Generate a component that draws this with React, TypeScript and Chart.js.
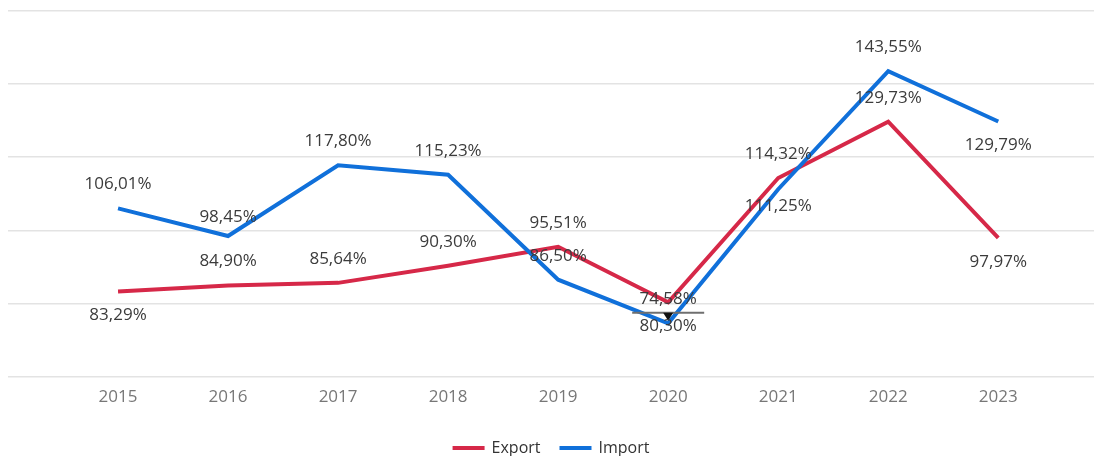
import React, { useEffect, useRef } from "react";
import { Chart, registerables } from "chart.js";

Chart.register(...registerables);

const years = ["2015", "2016", "2017", "2018", "2019", "2020", "2021", "2022", "2023"];
const exportValues = [83.29, 84.9, 85.64, 90.3, 95.51, 80.3, 114.32, 129.73, 97.97];
const importValues = [106.01, 98.45, 117.8, 115.23, 86.5, 74.58, 111.25, 143.55, 129.79];
// -1 = label above the point, 1 = label below
const exportLabelSide = [1, -1, -1, -1, -1, 1, -1, -1, 1];
const importLabelSide = [-1, -0.8, -1, -1, -1, -1, 0.72, -1, 1];
const seriesNames = ["Export", "Import"];
const seriesColors = ["#D62848", "#1070DA"];
const yTicks = [60, 80, 100, 120, 140, 160];

const FONT = '"Segoe UI", "Open Sans", "Noto Sans", sans-serif';

const fmt = (v: number) => v.toFixed(2).replace(".", ",") + "%";

const overlayPlugin = {
  id: "overlay",
  afterDatasetsDraw(chart: any) {
    const ctx = chart.ctx;
    const xs = chart.scales.x;
    const ys = chart.scales.y;
    ctx.save();
    // marker between the two 2020 points
    const mx = xs.getPixelForValue(5);
    const my = ys.getPixelForValue((exportValues[5] + importValues[5]) / 2);
    ctx.strokeStyle = "#6f6f6f";
    ctx.lineWidth = 2;
    ctx.beginPath();
    ctx.moveTo(mx - 36, my);
    ctx.lineTo(mx + 36, my);
    ctx.stroke();
    ctx.fillStyle = "#111";
    ctx.beginPath();
    ctx.moveTo(mx - 5, my);
    ctx.lineTo(mx + 5, my);
    ctx.lineTo(mx, my + 8);
    ctx.closePath();
    ctx.fill();

    // data labels
    ctx.font = `17px ${FONT}`;
    ctx.fillStyle = "#3b3b3b";
    ctx.textAlign = "center";
    ctx.textBaseline = "middle";
    const sides = [exportLabelSide, importLabelSide];
    const vals = [exportValues, importValues];
    chart.data.datasets.forEach((_ds: any, di: number) => {
      const meta = chart.getDatasetMeta(di);
      meta.data.forEach((pt: any, i: number) => {
        ctx.fillText(fmt(vals[di][i]), pt.x, pt.y + sides[di][i] * 24);
      });
    });

    // legend
    ctx.font = `16px ${FONT}`;
    ctx.textAlign = "left";
    const sw = 32;
    const gapSwText = 7;
    const gapItems = 19;
    const widths = seriesNames.map((n) => sw + gapSwText + ctx.measureText(n).width);
    const total = widths.reduce((a, b) => a + b, 0) + gapItems * (seriesNames.length - 1);
    let lx = chart.width / 2 - total / 2 + 4;
    const ly = 448;
    seriesNames.forEach((n, i) => {
      ctx.fillStyle = seriesColors[i];
      ctx.fillRect(lx, ly - 2, sw, 4);
      ctx.fillStyle = "#333";
      ctx.fillText(n, lx + sw + gapSwText, ly);
      lx += widths[i] + gapItems;
    });
    ctx.restore();
  },
};

export default function App() {
  const ref = useRef<HTMLCanvasElement | null>(null);
  useEffect(() => {
    document.body.style.margin = "0";
    const canvas = ref.current;
    if (!canvas) return;
    const chart = new Chart(canvas, {
      type: "line",
      data: {
        datasets: [
          {
            label: seriesNames[0],
            data: exportValues.map((v, i) => ({ x: i, y: v })),
            borderColor: seriesColors[0],
            backgroundColor: seriesColors[0],
            borderWidth: 4,
            pointRadius: 0,
            tension: 0,
            order: 1,
          },
          {
            label: seriesNames[1],
            data: importValues.map((v, i) => ({ x: i, y: v })),
            borderColor: seriesColors[1],
            backgroundColor: seriesColors[1],
            borderWidth: 4,
            pointRadius: 0,
            tension: 0,
            order: 0,
          },
        ],
      },
      options: {
        animation: false,
        responsive: false,
        layout: { padding: { left: 8, right: 0, top: 11, bottom: 39 } },
        plugins: {
          legend: { display: false },
          tooltip: { enabled: false },
        },
        scales: {
          x: {
            type: "linear",
            min: -1,
            max: 8.87,
            afterBuildTicks: (axis: any) => {
              axis.ticks = years.map((_, i) => ({ value: i }));
            },
            ticks: {
              callback: (v: any) => years[v] ?? "",
              color: "#777",
              font: { family: FONT, size: 17 },
              padding: 10,
              autoSkip: false,
              maxRotation: 0,
            },
            grid: { display: false, drawTicks: false },
            border: { display: false },
          },
          y: {
            min: yTicks[0],
            max: yTicks[yTicks.length - 1],
            afterBuildTicks: (axis: any) => {
              axis.ticks = yTicks.map((v) => ({ value: v }));
            },
            ticks: { display: false },
            grid: { color: "#e3e3e3", lineWidth: 1.5, drawTicks: false },
            border: { display: false },
          },
        },
      },
      plugins: [overlayPlugin],
    });
    return () => chart.destroy();
  }, []);
  return (
    <div style={{ width: 1094, height: 456 }}>
      <canvas ref={ref} width={1094} height={456} style={{ display: "block" }} />
    </div>
  );
}
